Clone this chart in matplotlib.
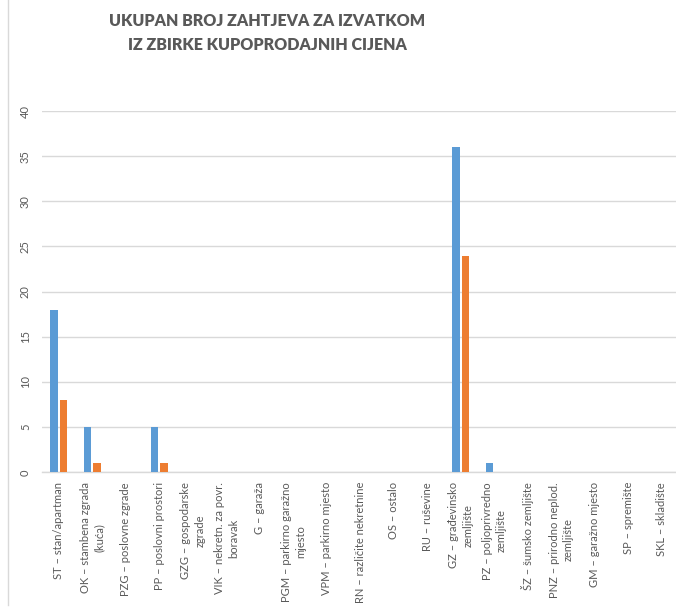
import numpy as np
import matplotlib
matplotlib.use('Agg')
import matplotlib.pyplot as plt
from matplotlib.lines import Line2D

plt.rcParams['font.family'] = ['Lato', 'DejaVu Sans']

categories = [
    'ST – stan/apartman',
    'OK – stambena zgrada\n(kuća)',
    'PZG – poslovne zgrade',
    'PP – poslovni prostori',
    'GZG – gospodarske\nzgrade',
    'VIK – nekretn. za povr.\nboravak',
    'G – garaža',
    'PGM – parkirno garažno\nmjesto',
    'VPM – parkirno mjesto',
    'RN – različite nekretnine',
    'OS – ostalo',
    'RU – ruševine',
    'GZ – građevinsko\nzemljište',
    'PZ – poljoprivredno\nzemljište',
    'ŠZ – šumsko zemljište',
    'PNZ – prirodno neplod.\nzemljište',
    'GM – garažno mjesto',
    'SP – spremište',
    'SKL – skladište',
]
series_1 = [18, 5, 0, 5, 0, 0, 0, 0, 0, 0, 0, 0, 36, 1, 0, 0, 0, 0, 0]
series_2 = [8, 1, 0, 1, 0, 0, 0, 0, 0, 0, 0, 0, 24, 0, 0, 0, 0, 0, 0]
y_ticks = [0, 5, 10, 15, 20, 25, 30, 35, 40]

TEXT = '#595959'
GRID = '#d9d9d9'

W, H = 676, 607
fig = plt.figure(figsize=(W / 100, H / 100), dpi=100)
ax = fig.add_axes([42 / W, 134.7 / H, 634 / W, 361.3 / H])

x = np.arange(len(categories))
w = 0.22
ax.bar(x - 0.14, series_1, width=w, color='#5B9BD5', zorder=3)
ax.bar(x + 0.14, series_2, width=w, color='#ED7D31', zorder=3)

ax.set_xlim(-0.5, -0.5 + 634 / 33.5)
ax.set_ylim(0, 40)
ax.set_yticks(y_ticks)
ax.yaxis.grid(True, color=GRID, linewidth=1, zorder=0)
ax.set_axisbelow(True)
for s in ['top', 'right', 'left']:
    ax.spines[s].set_visible(False)
ax.spines['bottom'].set_color(GRID)
ax.spines['bottom'].set_linewidth(1)

ax.set_xticks(x)
ax.set_xticklabels(categories, rotation=90, fontsize=8, color=TEXT,
                   multialignment='center', linespacing=1.35)
ax.tick_params(axis='x', length=0, pad=7)
ax.tick_params(axis='y', length=0, pad=8, labelsize=8, labelcolor=TEXT,
               labelrotation=90)
for t in ax.get_yticklabels():
    t.set_va('center')

fig.text(267 / W, 1 - 33 / H,
         'UKUPAN BROJ ZAHTJEVA ZA IZVATKOM\nIZ ZBIRKE KUPOPRODAJNIH CIJENA',
         ha='center', va='center', fontsize=11.5, fontweight='heavy',
         color=TEXT, linespacing=1.6)

# chart area border on the left
fig.add_artist(Line2D([8 / W, 8 / W], [2 / H, 1], transform=fig.transFigure,
                      color=GRID, linewidth=1))

fig.savefig('out.png', dpi=100)
